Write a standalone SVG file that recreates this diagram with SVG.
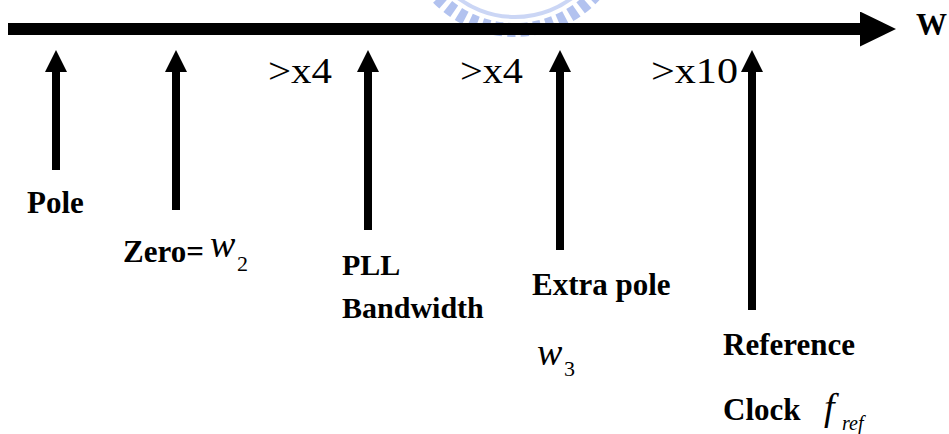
<svg xmlns="http://www.w3.org/2000/svg" width="949" height="434" viewBox="0 0 949 434">
  <style>
    .lbl { font-family: "Liberation Serif", "Times New Roman", serif; font-weight: bold; font-size: 31px; fill: #000; }
    .ratio { font-family: "Liberation Serif", "Times New Roman", serif; font-size: 36px; fill: #000; }
    .math { font-family: "Liberation Serif", "Times New Roman", serif; font-style: italic; font-size: 38px; fill: #000; }
    .sub { font-family: "Liberation Serif", "Times New Roman", serif; font-size: 22px; fill: #000; }
    .subi { font-family: "Liberation Serif", "Times New Roman", serif; font-style: italic; font-size: 20px; fill: #000; }
    .tick { stroke: #000; stroke-width: 8; fill: none; }
  </style>
  <defs>
    <marker id="upHead" markerUnits="userSpaceOnUse" markerWidth="22" markerHeight="22" viewBox="0 0 22 22" refX="0" refY="11" orient="auto">
      <path d="M0,0 L22,11 L0,22 Z" fill="#000"/>
    </marker>
    <marker id="axisHead" markerUnits="userSpaceOnUse" markerWidth="36" markerHeight="35" viewBox="0 0 36 35" refX="0" refY="17.5" orient="auto">
      <path d="M0,0 L36,17.5 L0,35 Z" fill="#000"/>
    </marker>
  </defs>

  <g id="watermark" opacity="0.6">
    <circle cx="515" cy="-78" r="108" fill="none" stroke="#7f9be6" stroke-width="14" stroke-dasharray="8 5"/>
    <circle cx="515" cy="-78" r="95" fill="none" stroke="#a9bcf0" stroke-width="4"/>
  </g>

  <g id="axis">
    <line x1="8" y1="29" x2="860" y2="29" stroke="#000" stroke-width="12" marker-end="url(#axisHead)"/>
    <text class="lbl" x="916" y="35">W</text>
  </g>

  <g id="connectors">
    <line class="tick" x1="56" y1="170" x2="56" y2="72" marker-end="url(#upHead)"/>
    <line class="tick" x1="176" y1="210" x2="176" y2="72" marker-end="url(#upHead)"/>
    <line class="tick" x1="368" y1="230" x2="368" y2="72" marker-end="url(#upHead)"/>
    <line class="tick" x1="560" y1="250" x2="560" y2="72" marker-end="url(#upHead)"/>
    <line class="tick" x1="752" y1="310" x2="752" y2="72" marker-end="url(#upHead)"/>
  </g>

  <g id="ratios">
    <text class="ratio" x="268" y="83" textLength="64" lengthAdjust="spacingAndGlyphs">&gt;x4</text>
    <text class="ratio" x="460" y="83" textLength="63" lengthAdjust="spacingAndGlyphs">&gt;x4</text>
    <text class="ratio" x="651" y="83" textLength="87" lengthAdjust="spacingAndGlyphs">&gt;x10</text>
  </g>

  <g id="node-pole">
    <text class="lbl" x="27" y="213">Pole</text>
  </g>

  <g id="node-zero">
    <text class="lbl" x="123" y="262">Zero=</text>
    <text class="math" x="210" y="257">w</text>
    <text class="sub" x="237" y="271">2</text>
  </g>

  <g id="node-pll">
    <text class="lbl" x="342" y="275" style="font-size:30px">PLL</text>
    <text class="lbl" x="342" y="318" style="font-size:30px">Bandwidth</text>
  </g>

  <g id="node-extra-pole">
    <text class="lbl" x="532" y="295">Extra pole</text>
    <text class="math" x="537" y="365">w</text>
    <text class="sub" x="564" y="376">3</text>
  </g>

  <g id="node-reference">
    <text class="lbl" x="723" y="355">Reference</text>
    <text class="lbl" x="723" y="420">Clock</text>
    <text class="math" x="824" y="420">f</text>
    <text class="subi" x="842" y="430">ref</text>
  </g>
</svg>
